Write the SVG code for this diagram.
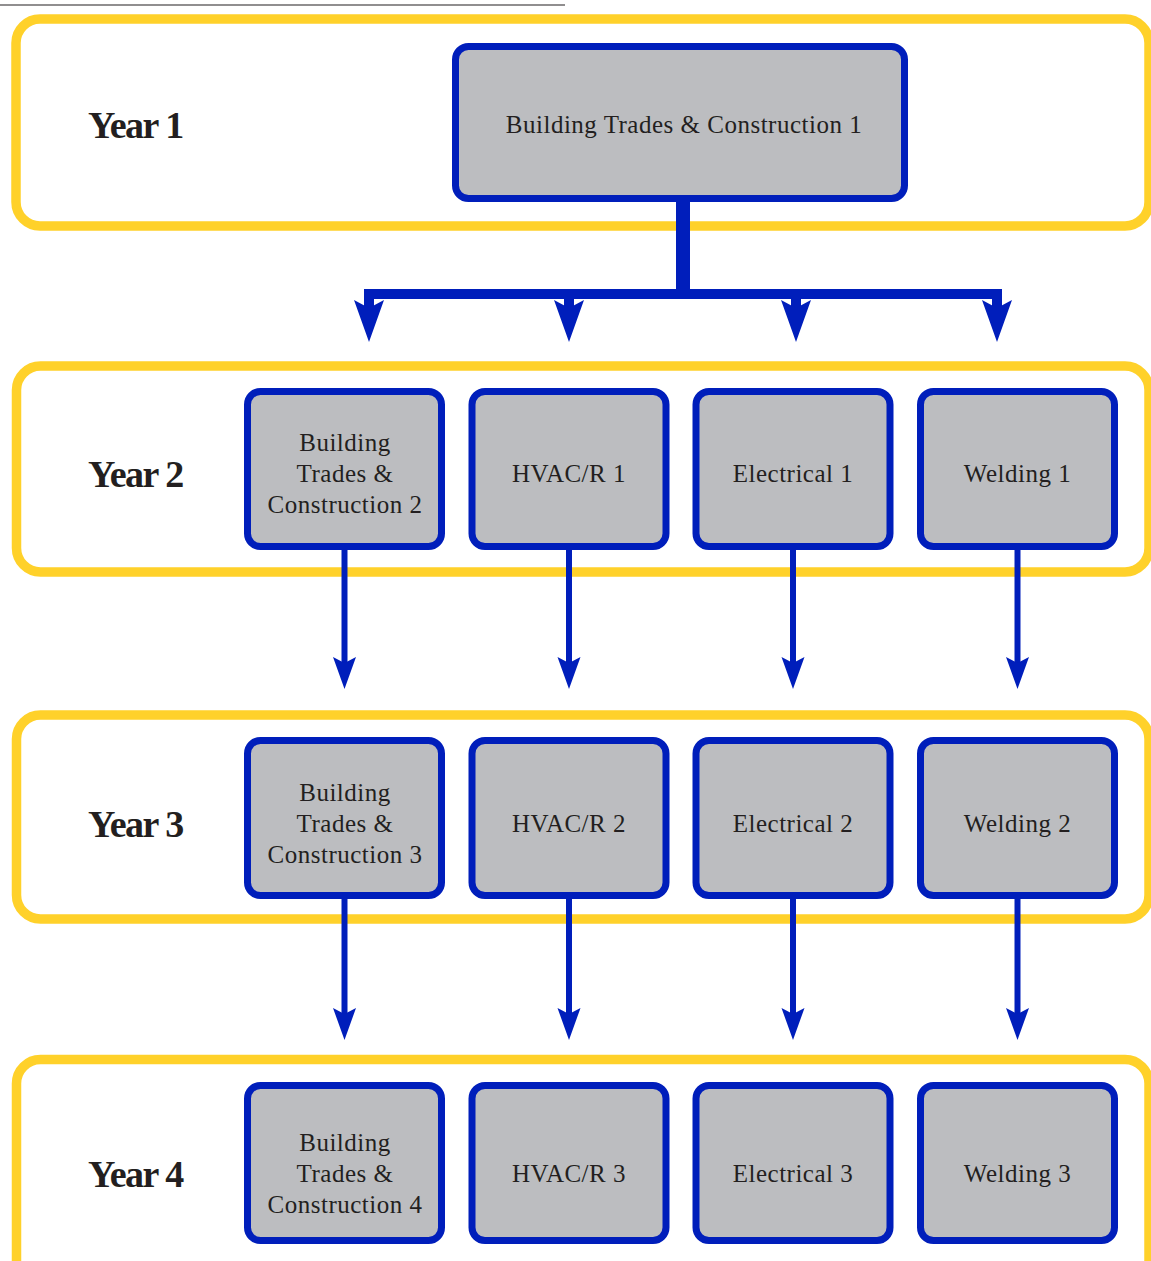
<svg xmlns="http://www.w3.org/2000/svg" width="1151" height="1261" viewBox="0 0 1151 1261">
<style>
.year{fill:#fff;stroke:#FFD12A;stroke-width:9.5}
.node rect{fill:#BCBDC0;stroke:#001EBB;stroke-width:7}
.nt{font-family:"Liberation Serif","Times New Roman",serif;font-size:25px;letter-spacing:0.5px;fill:#231F20;text-anchor:middle}
.yl{font-family:"Liberation Serif","Times New Roman",serif;font-size:38px;font-weight:bold;letter-spacing:-1.5px;fill:#231F20}
.ln{stroke:#001EBB;fill:none}
.ah{fill:#001EBB}
</style>
<defs>
<path id="bigah" d="M0,0 L-15,-42 L0,-34 L15,-42 Z"/>
<path id="smah" d="M0,0 L-11.5,-32 L0,-26 L11.5,-32 Z"/>
</defs>
<rect width="1151" height="1261" fill="#fff"/>
<line x1="0" y1="5" x2="565" y2="5" stroke="#231F20" stroke-width="1.2"/>
<g id="year-bands">
<rect class="year" x="16" y="19" width="1133" height="207" rx="24"/>
<rect class="year" x="16.5" y="366" width="1132.5" height="206" rx="24"/>
<rect class="year" x="16.5" y="715" width="1132.5" height="204" rx="24"/>
<rect class="year" x="16.5" y="1059.5" width="1132.5" height="240" rx="24"/>
</g>
<g id="year-labels">
<text class="yl" x="88" y="138">Year 1</text>
<text class="yl" x="88" y="487">Year 2</text>
<text class="yl" x="88" y="837">Year 3</text>
<text class="yl" x="88" y="1187">Year 4</text>
</g>
<g id="connectors">
<line class="ln" x1="683" y1="198" x2="683" y2="299" stroke-width="14"/>
<line class="ln" x1="364" y1="294" x2="1002" y2="294" stroke-width="10"/>
<line class="ln" x1="369" y1="289" x2="369" y2="310" stroke-width="10"/>
<line class="ln" x1="569" y1="289" x2="569" y2="310" stroke-width="10"/>
<line class="ln" x1="796" y1="289" x2="796" y2="310" stroke-width="10"/>
<line class="ln" x1="997" y1="289" x2="997" y2="310" stroke-width="10"/>
<use href="#bigah" class="ah" x="369" y="342"/>
<use href="#bigah" class="ah" x="569" y="342"/>
<use href="#bigah" class="ah" x="796" y="342"/>
<use href="#bigah" class="ah" x="997" y="342"/>
<line class="ln" x1="344.5" y1="546" x2="344.5" y2="665" stroke-width="6"/>
<line class="ln" x1="569" y1="546" x2="569" y2="665" stroke-width="6"/>
<line class="ln" x1="793" y1="546" x2="793" y2="665" stroke-width="6"/>
<line class="ln" x1="1017.5" y1="546" x2="1017.5" y2="665" stroke-width="6"/>
<use href="#smah" class="ah" x="344.5" y="689"/>
<use href="#smah" class="ah" x="569" y="689"/>
<use href="#smah" class="ah" x="793" y="689"/>
<use href="#smah" class="ah" x="1017.5" y="689"/>
<line class="ln" x1="344.5" y1="895" x2="344.5" y2="1015" stroke-width="6"/>
<line class="ln" x1="569" y1="895" x2="569" y2="1015" stroke-width="6"/>
<line class="ln" x1="793" y1="895" x2="793" y2="1015" stroke-width="6"/>
<line class="ln" x1="1017.5" y1="895" x2="1017.5" y2="1015" stroke-width="6"/>
<use href="#smah" class="ah" x="344.5" y="1040"/>
<use href="#smah" class="ah" x="569" y="1040"/>
<use href="#smah" class="ah" x="793" y="1040"/>
<use href="#smah" class="ah" x="1017.5" y="1040"/>
</g>
<g id="btc1" class="node"><rect x="455.5" y="46.5" width="449" height="152" rx="13"/><text class="nt" x="684" y="133">Building Trades &amp; Construction 1</text></g>

<g id="btc2" class="node"><rect x="247.5" y="391.5" width="194" height="155" rx="13"/><text class="nt" x="345" y="451">Building</text><text class="nt" x="345" y="482">Trades &amp;</text><text class="nt" x="345" y="513">Construction 2</text></g>
<g id="hvac1" class="node"><rect x="472" y="391.5" width="194" height="155" rx="13"/><text class="nt" x="569" y="482">HVAC/R 1</text></g>
<g id="elec1" class="node"><rect x="696" y="391.5" width="194" height="155" rx="13"/><text class="nt" x="793" y="482">Electrical 1</text></g>
<g id="weld1" class="node"><rect x="920.5" y="391.5" width="194" height="155" rx="13"/><text class="nt" x="1017.5" y="482">Welding 1</text></g>

<g id="btc3" class="node"><rect x="247.5" y="740.5" width="194" height="155" rx="13"/><text class="nt" x="345" y="801">Building</text><text class="nt" x="345" y="832">Trades &amp;</text><text class="nt" x="345" y="863">Construction 3</text></g>
<g id="hvac2" class="node"><rect x="472" y="740.5" width="194" height="155" rx="13"/><text class="nt" x="569" y="832">HVAC/R 2</text></g>
<g id="elec2" class="node"><rect x="696" y="740.5" width="194" height="155" rx="13"/><text class="nt" x="793" y="832">Electrical 2</text></g>
<g id="weld2" class="node"><rect x="920.5" y="740.5" width="194" height="155" rx="13"/><text class="nt" x="1017.5" y="832">Welding 2</text></g>

<g id="btc4" class="node"><rect x="247.5" y="1085.5" width="194" height="155" rx="13"/><text class="nt" x="345" y="1151">Building</text><text class="nt" x="345" y="1182">Trades &amp;</text><text class="nt" x="345" y="1213">Construction 4</text></g>
<g id="hvac3" class="node"><rect x="472" y="1085.5" width="194" height="155" rx="13"/><text class="nt" x="569" y="1182">HVAC/R 3</text></g>
<g id="elec3" class="node"><rect x="696" y="1085.5" width="194" height="155" rx="13"/><text class="nt" x="793" y="1182">Electrical 3</text></g>
<g id="weld3" class="node"><rect x="920.5" y="1085.5" width="194" height="155" rx="13"/><text class="nt" x="1017.5" y="1182">Welding 3</text></g>
</svg>
